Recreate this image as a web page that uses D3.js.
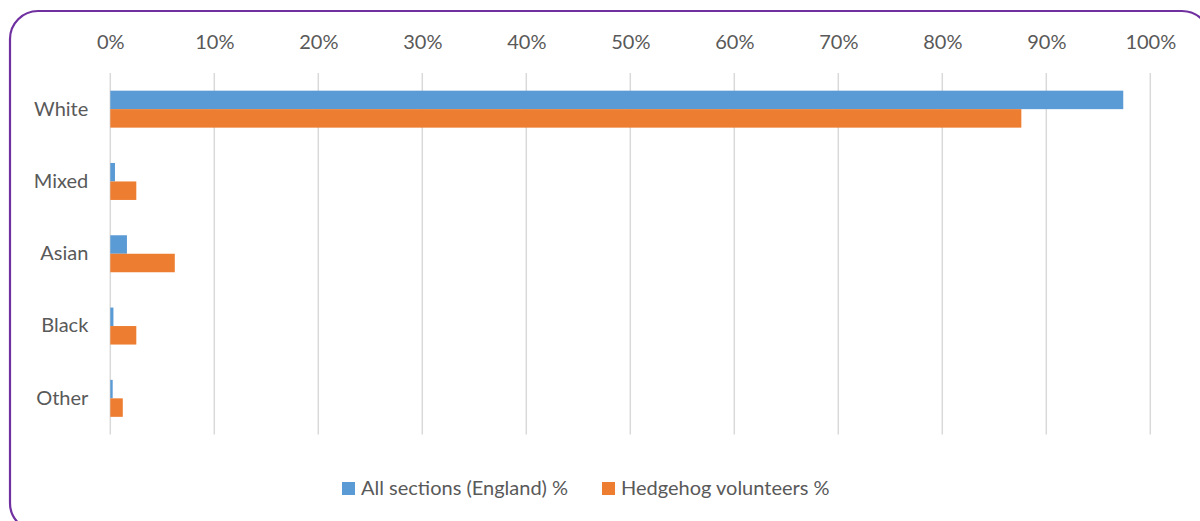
<!DOCTYPE html>
<html><head><meta charset="utf-8">
<script src="https://cdn.jsdelivr.net/npm/d3@7"></script>
<style>body{margin:0;background:#fff}svg{display:block}text{font-family:Lato,sans-serif;fill:#595959}</style>
</head><body>
<svg id="c" width="1200" height="521"></svg>
<script>
const categories = ["White","Mixed","Asian","Black","Other"];
const seriesNames = ["All sections (England) %","Hedgehog volunteers %"];
const allSections = [97.4, 0.45, 1.6, 0.3, 0.23];
const hedgehog = [87.6, 2.5, 6.2, 2.5, 1.2];
const tickValues = [0,10,20,30,40,50,60,70,80,90,100];
const colors = ["#5B9BD5","#ED7D31"];
const FONT = "Lato,sans-serif";
const FS = 20;

const svg = d3.select("#c");
svg.append("rect").attr("x",10).attr("y",11).attr("width",1200).attr("height",520)
  .attr("rx",28).attr("fill","none").attr("stroke","#7030A0").attr("stroke-width",2.2);

const x = d3.scaleLinear().domain([0,100]).range([110.3,1150.3]);
const y = d3.scaleBand().domain(categories).range([73,434.5]);
const inner = d3.scaleBand().domain([0,1]).range([0,y.bandwidth()]).paddingInner(0).paddingOuter(0.955);

const g = svg.append("g");
g.selectAll("line.grid").data(tickValues).join("line")
  .attr("x1",d=>x(d)).attr("x2",d=>x(d)).attr("y1",73).attr("y2",434.5)
  .attr("stroke","#d9d9d9").attr("stroke-width",1.5);

const xAxis = d3.axisTop(x).tickValues(tickValues).tickFormat(d=>d+"%").tickSize(0).tickPadding(0);
const ax = svg.append("g").attr("transform","translate(0,49)").call(xAxis);
ax.select(".domain").remove();
ax.selectAll("text").attr("font-size",FS).style("font-family",FONT).attr("fill","#595959");

const yAxis = d3.axisLeft(y).tickSize(0).tickPadding(22);
const ay = svg.append("g").attr("transform","translate(110.3,0)").call(yAxis);
ay.select(".domain").remove();
ay.selectAll("text").attr("font-size",FS).style("font-family",FONT).attr("fill","#595959");

const series = [allSections, hedgehog];
series.forEach((vals,si)=>{
  g.selectAll("rect.s"+si).data(categories).join("rect")
    .attr("x",x(0)).attr("y",(c)=>y(c)+inner(si))
    .attr("width",(c,i)=>x(vals[i])-x(0)).attr("height",inner.bandwidth())
    .attr("fill",colors[si]);
});

const legend = svg.append("g");
const lx = [342, 602];
seriesNames.forEach((n,i)=>{
  legend.append("rect").attr("x",lx[i]).attr("y",482).attr("width",13).attr("height",13).attr("fill",colors[i]);
  legend.append("text").attr("x",lx[i]+19).attr("y",495).attr("font-size",FS).style("font-family",FONT).text(n);
});
</script>
</body></html>
